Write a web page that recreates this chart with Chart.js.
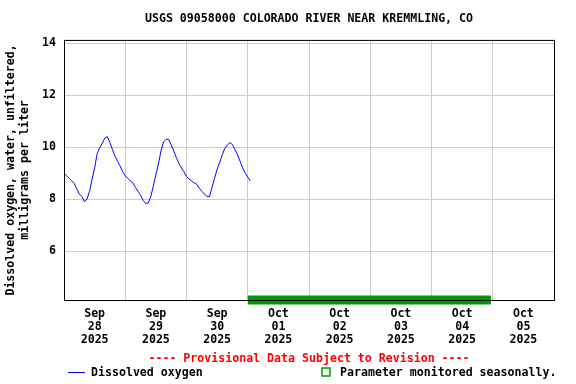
<!DOCTYPE html>
<html lang="en">
  <head>
    <meta charset="UTF-8" />
    <title>USGS 09058000 Colorado River near Kremmling - Dissolved oxygen</title>
    <script src="https://cdn.jsdelivr.net/npm/chart.js"></script>
    <style>
      html, body { margin: 0; padding: 0; background: #fff; }
      canvas { display: block; }
    </style>
  </head>
  <body>
    <canvas id="doChart" width="576" height="384"></canvas>

    <script>
      // Hourly dissolved oxygen (mg/L), starting Sep 28 2025 00:00
      const doValues = [
        9.0, 8.9, 8.8, 8.7, 8.6, 8.4, 8.2, 8.1, 7.9, 8.0, 8.3, 8.77,
        9.2, 9.75, 9.98, 10.15, 10.35, 10.4, 10.17, 9.9, 9.65, 9.45, 9.27, 9.05,
        8.9, 8.8, 8.7, 8.62, 8.45, 8.3, 8.15, 7.95, 7.83, 7.85, 8.1, 8.5,
        8.95, 9.35, 9.85, 10.2, 10.3, 10.3, 10.08, 9.85, 9.6, 9.38, 9.2, 9.05,
        8.87, 8.77, 8.7, 8.62, 8.57, 8.42, 8.3, 8.2, 8.1, 8.1, 8.45, 8.8,
        9.15, 9.4, 9.7, 9.95, 10.08, 10.17, 10.1, 9.9, 9.7, 9.45, 9.2, 9.0,
        8.85, 8.7
      ];

      // "Parameter monitored seasonally" span, in days from Sep 28 00:00
      const seasonalStart = 3.0;
      const seasonalEnd = 6.97;

      // x axis: days from Sep 28 00:00
      const tickMonths = ["Sep", "Sep", "Sep", "Oct", "Oct", "Oct", "Oct", "Oct"];
      const tickDays = ["28", "29", "30", "01", "02", "03", "04", "05"];
      const tickYears = ["2025", "2025", "2025", "2025", "2025", "2025", "2025", "2025"];
      const yTicks = [6, 8, 10, 12, 14];
      const yMin = 4.12;
      const yMax = 14.12;

      const titleText = "USGS 09058000 COLORADO RIVER NEAR KREMMLING, CO";
      const yTitle = ["Dissolved oxygen, water, unfiltered,", "milligrams per liter"];
      const provisionalText = "---- Provisional Data Subject to Revision ----";
      const legendLabels = ["Dissolved oxygen", "Parameter monitored seasonally."];

      const FONT = "'DejaVu Sans Mono', 'Liberation Mono', monospace";
      const fontSpec = { family: FONT, size: 11.6, weight: "bold" };

      const linePoints = doValues.map((v, i) => ({ x: i / 24, y: v }));
      const seasonalPoints = [
        { x: seasonalStart, y: yMin },
        { x: seasonalEnd, y: yMin },
      ];

      // frame over the plot + footer text / legend
      const frameAndFooter = {
        id: "frameAndFooter",
        afterDatasetsDraw(chart) {
          const { ctx, chartArea: a } = chart;
          ctx.save();
          ctx.strokeStyle = "#000";
          ctx.lineWidth = 1;
          ctx.strokeRect(a.left + 0.5, a.top + 0.5, a.right - a.left, a.bottom - a.top);
          ctx.restore();
        },
        afterDraw(chart) {
          const { ctx, chartArea: a } = chart;
          const cx = (a.left + a.right) / 2;
          ctx.save();
          ctx.font = "bold 11.6px " + FONT;
          ctx.textBaseline = "middle";

          ctx.fillStyle = "#ff0000";
          ctx.textAlign = "center";
          ctx.fillText(provisionalText, cx, 359);

          // legend: blue line sample
          ctx.strokeStyle = "#0000ff";
          ctx.lineWidth = 1;
          ctx.beginPath();
          ctx.moveTo(68, 372.5);
          ctx.lineTo(85, 372.5);
          ctx.stroke();
          ctx.fillStyle = "#000";
          ctx.textAlign = "left";
          ctx.fillText(legendLabels[0], 91, 373);

          // legend: hollow green square
          ctx.strokeStyle = "#00a000";
          ctx.lineWidth = 1.5;
          ctx.strokeRect(322, 368, 8, 8);
          ctx.fillText(legendLabels[1], 340, 373);
          ctx.restore();
        },
      };

      const ctx = document.getElementById("doChart").getContext("2d");
      new Chart(ctx, {
        type: "line",
        data: {
          datasets: [
            {
              label: legendLabels[0],
              data: linePoints,
              borderColor: "#0000ff",
              borderWidth: 1,
              pointRadius: 0,
              tension: 0,
              fill: false,
            },
            {
              label: legendLabels[1],
              data: seasonalPoints,
              borderColor: "#009900",
              borderWidth: 9,
              borderCapStyle: "butt",
              pointRadius: 0,
              fill: false,
              clip: false,
            },
          ],
        },
        options: {
          responsive: false,
          animation: false,
          devicePixelRatio: 1,
          layout: { padding: { left: 0, right: 22, top: 0, bottom: 0 } },
          plugins: {
            legend: { display: false },
            tooltip: { enabled: false },
            title: {
              display: true,
              text: titleText,
              color: "#000",
              font: fontSpec,
              fullSize: false,
              padding: { top: 12, bottom: 14 },
            },
          },
          scales: {
            x: {
              type: "linear",
              min: 0,
              max: 8,
              afterBuildTicks: (scale) => {
                const t = [];
                for (let i = 0; i <= 16; i++) t.push({ value: i / 2 });
                scale.ticks = t;
              },
              afterFit: (scale) => { scale.height = 84; },
              grid: {
                color: (c) => (c.tick && Number.isInteger(c.tick.value) ? "#cccccc" : "rgba(0,0,0,0)"),
                drawTicks: false,
              },
              border: { display: false },
              ticks: {
                autoSkip: false,
                maxRotation: 0,
                padding: 7,
                color: "#000",
                font: { family: FONT, size: 11.6, weight: "bold", lineHeight: "13px" },
                callback: (v) => {
                  if (Number.isInteger(v)) return "";
                  const i = Math.floor(v);
                  return [tickMonths[i], tickDays[i], tickYears[i]];
                },
              },
            },
            y: {
              min: yMin,
              max: yMax,
              afterBuildTicks: (scale) => {
                scale.ticks = yTicks.map((v) => ({ value: v }));
              },
              afterFit: (scale) => { scale.width = 64; },
              grid: { color: "#cccccc", drawTicks: false },
              border: { display: false },
              ticks: { padding: 8, color: "#000", font: fontSpec },
              title: {
                display: true,
                text: yTitle,
                color: "#000",
                font: { family: FONT, size: 11.6, weight: "bold", lineHeight: "14px" },
                padding: { top: 4, bottom: 0 },
              },
            },
          },
        },
        plugins: [frameAndFooter],
      });
    </script>
  </body>
</html>
